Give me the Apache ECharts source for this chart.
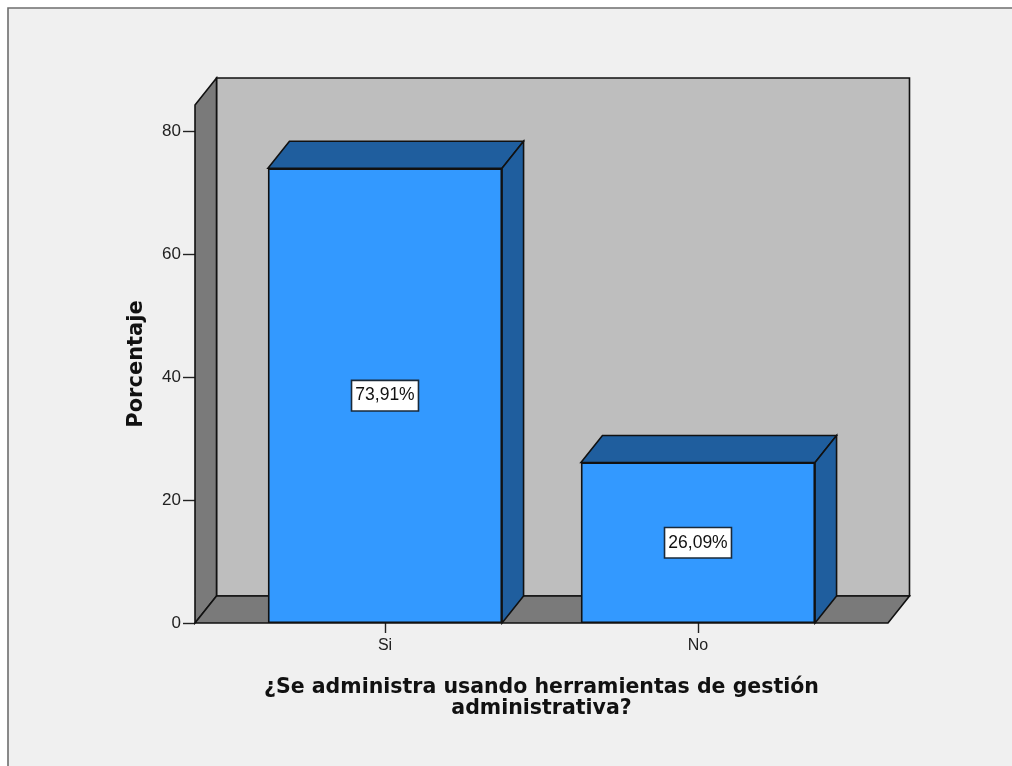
<!DOCTYPE html>
<html><head><meta charset="utf-8">
<style>html,body{margin:0;padding:0;background:#fff}#c{width:1012px;height:766px}</style>
<script src="https://cdn.jsdelivr.net/npm/echarts@6/dist/echarts.min.js"></script>
</head><body><div id="c"></div>
<script>
const categories = ['Si', 'No'];
const percentages = [73.91, 26.09];
const yTicks = [0, 20, 40, 60, 80];
const yTop = 84.2;
const xTitle = '¿Se administra usando herramientas de gestión\nadministrativa?';
const yTitle = 'Porcentaje';

const DX = 21.5, DY = -27;        // oblique depth of the pseudo-3D drawing
const BAR_RATIO = 0.748;          // bar width / category band
const WALL_PAD = 0.607;           // wall extends this many bands from the first/last category
const line = { stroke: '#111', lineWidth: 1.6 };
const poly = (pts, fill, extra) => ({ type: 'polygon', shape: { points: pts }, style: Object.assign({ fill }, line, extra || {}), silent: true });

const chart = echarts.init(document.getElementById('c'), null, { renderer: 'canvas' });
chart.setOption({
  animation: false,
  backgroundColor: '#ffffff',
  textStyle: { fontFamily: 'Liberation Sans' },
  graphic: [{ type: 'rect', z: -10, shape: { x: 8, y: 8, width: 1100, height: 900 },
    style: { fill: '#f0f0f0', stroke: '#6e6e6e', lineWidth: 1.6 } }],
  grid: { left: 228.5, top: 105, width: 626, height: 518, containLabel: false },
  xAxis: {
    type: 'category', data: categories,
    axisLine: { show: false },
    axisTick: { show: true, alignWithLabel: true, length: 10, lineStyle: { color: '#222', width: 1.4 } },
    axisLabel: { color: '#222', fontSize: 16, margin: 15, fontFamily: 'Liberation Sans' },
    name: xTitle, nameLocation: 'middle', nameGap: 54,
    nameTextStyle: { color: '#111', fontSize: 20.5, fontWeight: 'bold', fontFamily: 'DejaVu Sans', lineHeight: 21, align: 'center' }
  },
  yAxis: {
    type: 'value', min: 0, max: yTop, offset: 33.5,
    splitLine: { show: false },
    axisLine: { show: false },
    axisTick: { show: true, length: 12, customValues: yTicks, lineStyle: { color: '#222', width: 1.4 } },
    axisLabel: { color: '#222', fontSize: 17, margin: 14, customValues: yTicks, fontFamily: 'Liberation Sans' },
    name: yTitle, nameLocation: 'middle', nameGap: 48,
    nameTextStyle: { color: '#111', fontSize: 21, fontWeight: 'bold', fontFamily: 'DejaVu Sans' }
  },
  series: [
    { // back wall, left wall, floor
      type: 'custom', z: 1, silent: true, clip: false,
      data: [[0]],
      encode: { x: 0 },
      renderItem(params, api) {
        const band = api.size([1, 0])[0];
        const o = api.coord([0, 0]), t = api.coord([0, yTop]);
        const l = o[0] - WALL_PAD * band;
        const r = api.coord([1, 0])[0] + WALL_PAD * band;
        const b = o[1], u = t[1];
        return { type: 'group', children: [
          poly([[l + DX, u + DY], [r + DX, u + DY], [r + DX, b + DY], [l + DX, b + DY]], '#bebebe'),
          poly([[l, u], [l + DX, u + DY], [l + DX, b + DY], [l, b]], '#7a7a7a'),
          poly([[l, b], [l + DX, b + DY], [r + DX, b + DY], [r, b]], '#7a7a7a')
        ] };
      }
    },
    { // top and side faces of each bar
      type: 'custom', z: 2, silent: true, clip: false,
      data: percentages.map((v, i) => [i, v]),
      encode: { x: 0, y: 1 },
      renderItem(params, api) {
        const i = api.value(0), v = api.value(1);
        const band = api.size([1, 0])[0], w = band * BAR_RATIO;
        const p = api.coord([i, v]), o = api.coord([i, 0]);
        const l = p[0] - w / 2, r = p[0] + w / 2, u = p[1], b = o[1];
        const side = '#1f5e9e';
        return { type: 'group', children: [
          poly([[l, u], [l + DX, u + DY], [r + DX, u + DY], [r, u]], side),
          poly([[r, u], [r + DX, u + DY], [r + DX, b + DY], [r, b]], side)
        ] };
      }
    },
    {
      type: 'bar', z: 3, clip: false, silent: true,
      data: percentages,
      barWidth: (BAR_RATIO * 100) + '%',
      itemStyle: { color: '#3399ff', borderColor: '#111', borderWidth: 1.6 },
      label: {
        show: true, position: 'inside', color: '#111', fontSize: 17.5,
        fontFamily: 'Liberation Sans',
        backgroundColor: '#ffffff', borderColor: '#1a2a3a', borderWidth: 1.6,
        padding: [6, 3, 5, 3],
        formatter: p => p.value.toFixed(2).replace('.', ',') + '%'
      }
    }
  ]
});
</script></body></html>
